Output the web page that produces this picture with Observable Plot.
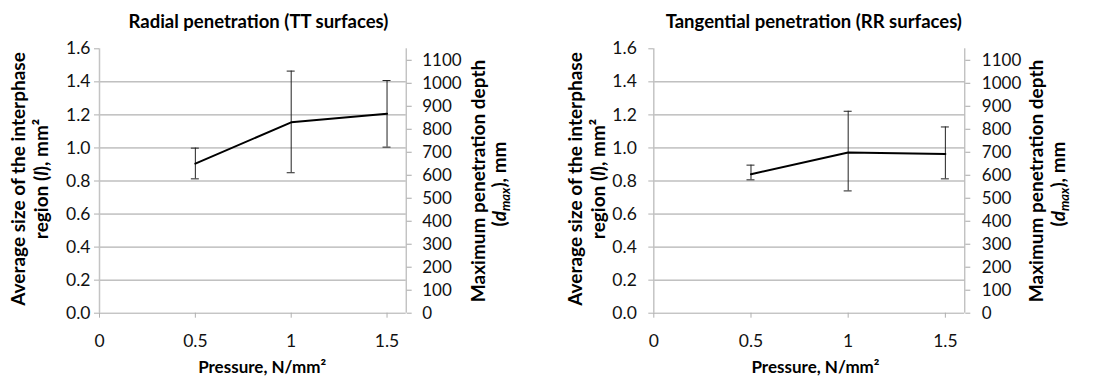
<!DOCTYPE html>
<html><head><meta charset="utf-8">
<script src="https://cdn.jsdelivr.net/npm/d3@7"></script>
<script src="https://cdn.jsdelivr.net/npm/@observablehq/plot@0.6"></script>
<style>
body{margin:0;background:#fff;}
#wrap{position:relative;width:1105px;height:377px;overflow:hidden;background:#fff;}
.panel{position:absolute;top:0;}
</style></head><body><div id="wrap"></div>
<script>
// ---- data ----
const pressure = [0.5, 1, 1.5];
const radialMean = [0.905, 1.155, 1.207];
const radialLow  = [0.813, 0.850, 1.005];
const radialHigh = [0.999, 1.465, 1.408];
const tangMean = [0.841, 0.973, 0.963];
const tangLow  = [0.807, 0.740, 0.813];
const tangHigh = [0.896, 1.222, 1.127];
const titles = ["Radial penetration (TT surfaces)", "Tangential penetration (RR surfaces)"];
const leftTicks = [0, 0.2, 0.4, 0.6, 0.8, 1.0, 1.2, 1.4, 1.6];
const gridTicks = [0.2, 0.4, 0.6, 0.8, 1.0, 1.2, 1.4];
const rightTicks = [0, 100, 200, 300, 400, 500, 600, 700, 800, 900, 1000, 1100];
const xTicks = [0, 0.5, 1, 1.5];
const xLabel = "Pressure, N/mm²";
const leftLabel = ["Average size of the interphase", "region (l), mm²"];
const rightLabel = ["Maximum penetration depth", "(dmax), mm"];
const leftMax = 1.6, rightMax = 1150, xMax = 1.6;

const FONT = "Lato, 'Open Sans', sans-serif";

function panel(cfg) {
  const idx = d3.range(pressure.length);
  const rightPos = rightTicks.map(v => v * leftMax / rightMax);
  const lab = {fontWeight: "bold", fontSize: 19, fill: "#000", rotate: -90, textAnchor: "middle", lineAnchor: "middle"};
  const svg = Plot.plot({
    width: cfg.width, height: 377,
    marginLeft: cfg.ml, marginRight: cfg.mr, marginTop: 48.3, marginBottom: 64.3,
    x: {domain: [0, xMax]},
    y: {domain: [0, leftMax]},
    style: {fontFamily: FONT, fontSize: "17px", color: "#000", background: "transparent", overflow: "visible"},
    marks: [
      Plot.ruleY(gridTicks, {stroke: "#9f9f9f", strokeWidth: 1}),
      Plot.ruleY([0], {stroke: "#acacac", strokeWidth: 1}),
      Plot.ruleX([0], {stroke: "#c4c4c4", strokeWidth: 1.5}),
      Plot.ruleX([xMax], {stroke: "#a8a8a8", strokeWidth: 1}),
      Plot.axisY(leftTicks, {anchor: "left", tickSize: 5, tickPadding: cfg.lpad, stroke: "#b0b0b0", fill: "#111",
        tickFormat: d3.format(".1f"), label: null, fontSize: 17.5}),
      Plot.axisY(rightPos, {anchor: "right", tickSize: 5, tickPadding: cfg.rpad, stroke: "#a8a8a8", fill: "#111",
        tickFormat: d => String(Math.round(d * rightMax / leftMax)), label: null, fontSize: 17}),
      Plot.axisX(xTicks, {anchor: "bottom", tickSize: 5, tickPadding: 16, stroke: "#b0b0b0", fill: "#111",
        tickFormat: d => String(d), label: null, fontSize: 17.5}),
      Plot.ruleX(idx, {x: i => pressure[i], y1: i => cfg.low[i], y2: i => cfg.high[i], stroke: "#222", strokeWidth: 1}),
      Plot.ruleY(idx, {y: i => cfg.low[i], x1: i => pressure[i], x2: i => pressure[i], insetLeft: -4, insetRight: -4, stroke: "#222", strokeWidth: 1}),
      Plot.ruleY(idx, {y: i => cfg.high[i], x1: i => pressure[i], x2: i => pressure[i], insetLeft: -4, insetRight: -4, stroke: "#222", strokeWidth: 1}),
      Plot.line(idx, {x: i => pressure[i], y: i => cfg.mean[i], stroke: "#000", strokeWidth: 2}),
      Plot.text([cfg.title], {frameAnchor: "top", lineAnchor: "middle", dx: cfg.titleDx, dy: -26.3, fontWeight: "bold", fontSize: 18.5, fill: "#000"}),
      Plot.text([xLabel], {frameAnchor: "bottom", lineAnchor: "middle", dx: cfg.xlabDx, dy: 54.3, fontWeight: "bold", fontSize: 17, fill: "#000"}),
      Plot.text([leftLabel[0]], {...lab, frameAnchor: "left", dx: cfg.l1dx, dy: -2}),
      Plot.text([leftLabel[1]], {...lab, frameAnchor: "left", dx: cfg.l2dx, dy: -2, className: "lab-l2"}),
      Plot.text([rightLabel[0]], {...lab, frameAnchor: "right", dx: 72.4, dy: 0}),
      Plot.text([rightLabel[1]], {...lab, frameAnchor: "right", dx: 94.2, dy: 3, className: "lab-r2"})
    ]
  });
  // italic / subscript parts of the axis titles
  d3.select(svg).selectAll(".lab-l2 text").each(function() {
    const t = d3.select(this); t.text(null);
    t.append("tspan").text("region (");
    t.append("tspan").attr("font-style", "italic").text("l");
    t.append("tspan").text("), mm²");
  });
  d3.select(svg).selectAll(".lab-r2 text").each(function() {
    const t = d3.select(this); t.text(null);
    t.append("tspan").text("(");
    t.append("tspan").attr("font-style", "italic").text("d");
    t.append("tspan").attr("font-style", "italic").attr("font-size", "13px").attr("dy", "4").text("max");
    t.append("tspan").attr("dy", "-4").text("), mm");
  });
  svg.classList.add("panel");
  svg.style.left = cfg.left + "px";
  return svg;
}

const wrap = document.getElementById("wrap");
wrap.appendChild(panel({
  left: 0, width: 552, ml: 99, mr: 146.3, lpad: 4, rpad: 11,
  mean: radialMean, low: radialLow, high: radialHigh, title: titles[0],
  titleDx: 5.6, xlabDx: 9.3, l1dx: -80.7, l2dx: -57.3
}));
wrap.appendChild(panel({
  left: 552, width: 553, ml: 101.3, mr: 140.7, lpad: 12, rpad: 12,
  mean: tangMean, low: tangLow, high: tangHigh, title: titles[1],
  titleDx: 4.5, xlabDx: 6.2, l1dx: -78.3, l2dx: -55
}));
</script>
</body></html>
